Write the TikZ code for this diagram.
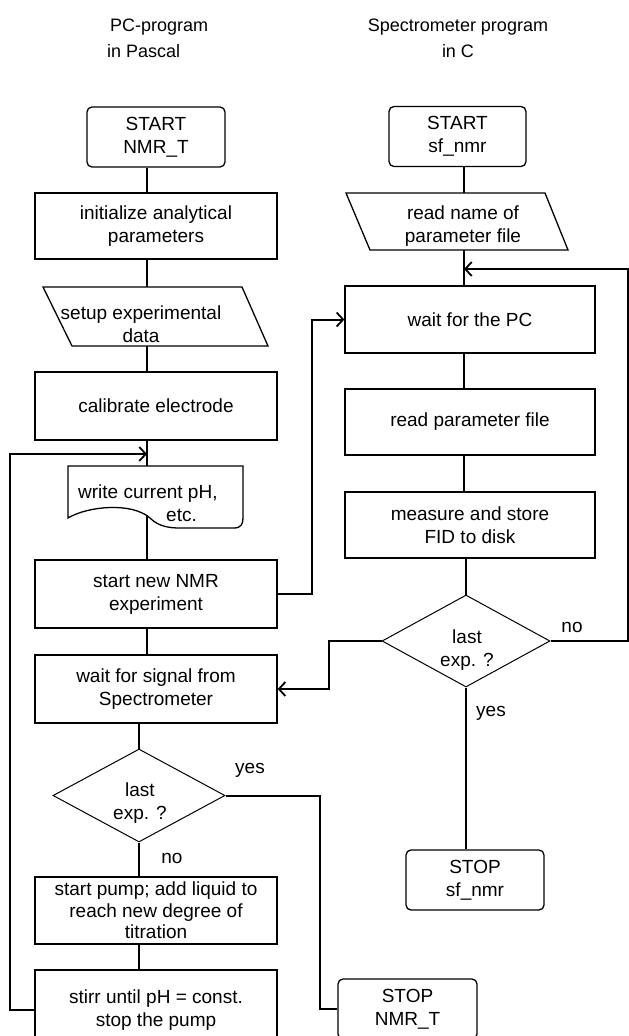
\documentclass[tikz,border=0pt]{standalone}
\usepackage{fontspec}
\setmainfont{Liberation Sans}
\usetikzlibrary{arrows.meta,shapes.geometric}
\begin{document}
\begin{tikzpicture}[x=1pt,y=-1pt,
  every node/.style={font=\fontsize{19}{23}\selectfont, inner sep=0pt, align=center},
  box/.style={draw, line width=1.3pt, minimum width=242pt, minimum height=67pt},
  rbox/.style={draw, line width=1.3pt, rounded corners=5pt, minimum width=138pt, minimum height=60pt},
  dia/.style={draw, diamond, line width=1pt, inner sep=0pt},
  shapeline/.style={line width=1.3pt},
  spine/.style={line width=2.8pt},
  link/.style={line width=2pt},
  arr/.style={-{Straight Barb[length=6.5pt,width=14pt,line width=1.8pt]}},
  ttl/.style={font=\fontsize{18}{26}\selectfont}
]
\clip (0,0) rectangle (629,1036);
\useasboundingbox (0,0) rectangle (629,1036);

% titles
\node[ttl, anchor=west, align=left] (t1) at (110,38) {PC-program\\\hspace*{-3pt}in Pascal};
\node[ttl] (t2) at (458,38) {Spectrometer program\\in C};

% spine coordinates
\coordinate (Lx) at (147,0);
\coordinate (Rx) at (464,0);

% left column
\node[rbox] (s1) at (156,137) {START\\NMR\_T};
\node[box, minimum height=66pt] (init) at (156,226) {initialize analytical\\parameters};
\node (setup) at (141,324) {setup experimental\\data};
\draw[shapeline] (43,287) -- (242,287) -- (268,346) -- (72,346) -- cycle;
\coordinate (p1t) at (147,287);
\coordinate (p1b) at (147,346);
\node[box, minimum height=68pt] (cal) at (156,406) {calibrate electrode};
\node[anchor=west, align=left] (doc) at (78,503) {write current pH,\\\hspace*{88pt}etc.};
\draw[shapeline] (68,518) .. controls (88,506) and (132,502) .. (150,518)
  .. controls (158,526) and (168,528) .. (180,528) -- (234,528)
  .. controls (241,528) and (243,524) .. (243,518) -- (243,466) -- (68,466) -- cycle;
\coordinate (dct) at (147,466);
\coordinate (dcb) at (147,515);
\node[box, minimum height=68pt] (nmr) at (156,594) {start new NMR\\experiment};
\node[box, minimum height=68pt] (wsig) at (156,689) {wait for signal from\\Spectrometer};
\node[dia, minimum width=172pt, minimum height=93pt] (d1) at (139,795.5) {};
\node (d1t) at (140,803) {last\\exp. ?};
\node[box, font=\fontsize{19}{21.5}\selectfont] (pump) at (156,910.5) {start pump; add liquid to\\reach new degree of\\titration};
\node[box, minimum height=80pt] (stirr) at (156,1010) {stirr until pH = const.\\stop the pump};
\node[rbox, minimum width=139pt] (e1) at (407.5,1009) {STOP\\NMR\_T};

% right column
\node[rbox, minimum width=137pt] (s2) at (457.5,136.5) {START\\sf\_nmr};
\node (rn) at (463,226) {read name of\\parameter file};
\draw[shapeline] (346,193) -- (545,193) -- (568,250) -- (370,250) -- cycle;
\coordinate (p2t) at (464,193);
\coordinate (p2b) at (464,250);
\node[box, minimum width=250pt] (wpc) at (470,319.5) {wait for the PC};
\node[box, minimum width=250pt, minimum height=66pt] (rp) at (470,422) {read parameter file};
\node[box, minimum width=250pt, minimum height=66pt] (ms) at (470,525) {measure and store\\FID to disk};
\node[dia, minimum width=168pt, minimum height=92pt] (d2) at (466,641) {};
\node (d2t) at (467,650) {last\\exp. ?};
\node[rbox] (e2) at (475,880) {STOP\\sf\_nmr};

% labels
\node (l1) at (250,770) {yes};
\node (l2) at (172,858) {no};
\node (l3) at (572,627) {no};
\node (l4) at (491,713) {yes};

% left spine
\draw[spine] (s1.south -| Lx) -- (init.north -| Lx);
\draw[spine] (init.south -| Lx) -- (p1t);
\draw[spine] (p1b) -- (cal.north -| Lx);
\draw[spine] (cal.south -| Lx) -- (dct);
\draw[spine] (dcb) -- (nmr.north -| Lx);
\draw[spine] (nmr.south -| Lx) -- (wsig.north -| Lx);
\draw[spine] (wsig.south -| d1.north) -- (d1.north);
\draw[spine] (d1.south) -- (d1.south |- pump.north);
\draw[spine] (pump.south -| d1.south) -- (d1.south |- stirr.north);

% right spine
\draw[spine] (s2.south -| Rx) -- (p2t);
\draw[spine] (p2b) -- (wpc.north -| Rx);
\draw[spine] (wpc.south -| Rx) -- (rp.north -| Rx);
\draw[spine] (rp.south -| Rx) -- (ms.north -| Rx);
\draw[spine] (ms.south -| d2.north) -- (d2.north);
\draw[spine] (d2.south) -- (d2.south |- e2.north);

% loops and cross links
\coordinate (Lloop) at (10,454);
\draw[link, arr] (stirr.west) -| (Lloop) -- (Lloop -| Lx);
\coordinate (Mx) at (312,0);
\draw[link, arr] (nmr.east) -- (nmr.east -| Mx) |- (wpc.west);
\coordinate (Yx) at (320,0);
\draw[link] (d1.east) -- (d1.east -| Yx) |- (e1.west);
\coordinate (Nx) at (628,269);
\coordinate (rin) at (464,269);
\draw[link, arr] (d2.east) -| (Nx) -- (rin);
\coordinate (Wx) at (329,689);
\draw[link, arr] (d2.west) -| (Wx) -- (wsig.east);
\end{tikzpicture}
\end{document}
